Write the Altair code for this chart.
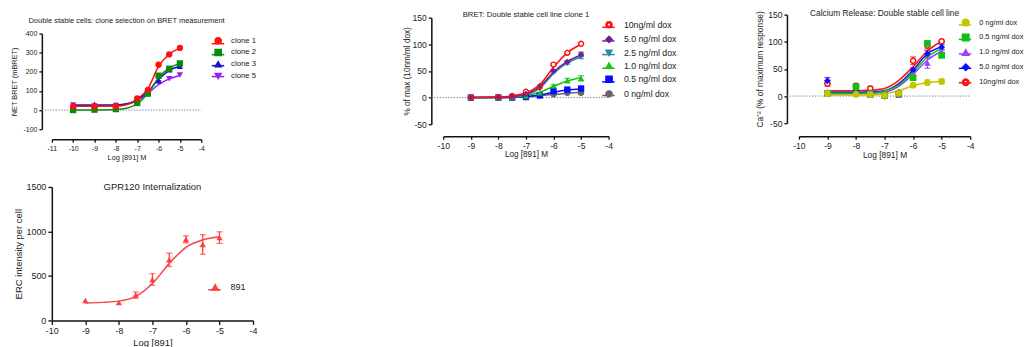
import altair as alt
import pandas as pd

FONT = "Liberation Sans"
TXT = "#222222"
RING = ("M -1 0 A 1 1 0 1 0 1 0 A 1 1 0 1 0 -1 0 Z "
        "M -0.55 0 A 0.55 0.55 0 1 1 0.55 0 A 0.55 0.55 0 1 1 -0.55 0 Z")

# ---------------- Panel 1: clone selection ----------------
p1_title = "Double stable cells: clone selection on BRET measurement"
p1_series = ["clone 1", "clone 2", "clone 3", "clone 5"]
p1_colors = ["#ff1010", "#0a8a0a", "#1414c8", "#9a1ef0"]
p1_open = [False, False, False, False]
p1_shapes = ["circle", "square", "triangle-up", "triangle-down"]
p1_x = [-10, -9, -8, -7, -6.5, -6, -5.5, -5]
p1_clone1 = [19, 19, 20, 61, 106, 237, 291, 325]
p1_clone2 = [0, 2, 5, 37, 86, 180, 216, 244]
p1_clone3 = [23, 30, 26, 54, 92, 155, 211, 229]
p1_clone5 = [26, 21, 24, 54, 82, 143, 164, 183]
p1_err = [0, 0, 0, 0, 0, 0, 0, 0]
p1_fit_x = [-10, -9, -8, -7.5, -7, -6.5, -6, -5.5, -5]
p1_fit_clone1 = [20, 20, 21, 28, 57, 112, 228, 292, 324]
p1_fit_clone2 = [0, 0, 3, 10, 33, 88, 168, 220, 243]
p1_fit_clone3 = [26, 26, 27, 33, 55, 97, 160, 208, 229]
p1_fit_clone5 = [23, 23, 24, 30, 50, 88, 133, 163, 181]

# ---------------- Panel 2: BRET dox titration ----------------
p2_title = "BRET: Double stable cell line clone 1"
p2_series = ["10ng/ml dox", "5.0 ng/ml dox", "2.5 ng/ml dox", "1.0 ng/ml dox", "0.5 ng/ml dox", "0 ng/ml dox"]
p2_colors = ["#ff1010", "#6e2096", "#2a8ba6", "#10c810", "#0a0aff", "#666666"]
p2_open = [True, False, False, False, False, False]
p2_shapes = [RING, "diamond", "triangle-down", "triangle-up", "square", "circle"]
p2_x = [-9, -8, -7.5, -7, -6.5, -6, -5.5, -5]
p2_d10 = [0, 1, 3, 11, 20, 62, 84, 101]
p2_d5 = [0, 1, 2, 7, 22, 50, 67, 81]
p2_d25 = [0, 0, 0, 4, 16, 47, 64, 76]
p2_d1 = [0, 0, 1, 3, 9, 22, 32, 36]
p2_d05 = [0, 0, 0, 1, 4, 12, 15, 17]
p2_d0 = [0, 0, 0, 1, 4, 6, 9, 9]
p2_e10 = [0, 0, 0, 0, 0, 3, 2, 1]
p2_e5 = [0, 0, 0, 0, 0, 2, 2, 4]
p2_e25 = [0, 0, 0, 0, 0, 0, 2, 3]
p2_e1 = [0, 0, 0, 0, 0, 2, 4, 5]
p2_e05 = [0, 0, 0, 0, 0, 2, 3, 4]
p2_e0 = [0, 0, 0, 0, 0, 0, 1, 2]
p2_fit_x = [-9, -8, -7.5, -7, -6.5, -6, -5.5, -5]
p2_fit_d10 = [0, 1, 3, 9, 24, 57, 84, 100]
p2_fit_d5 = [0, 1, 2, 7, 20, 48, 68, 80]
p2_fit_d25 = [0, 0, 1, 5, 17, 45, 65, 76]
p2_fit_d1 = [0, 0, 1, 4, 10, 21, 31, 37]
p2_fit_d05 = [0, 0, 0.5, 2, 5, 10, 14, 16]
p2_fit_d0 = [0, 0, 0.5, 1.5, 3.5, 6, 8, 10]

# ---------------- Panel 3: calcium release ----------------
p3_title = "Calcium Release: Double stable cell line"
p3_series = ["0 ng/ml dox", "0.5 ng/ml dox", "1.0 ng/ml dox", "5.0 ng/ml dox", "10ng/ml dox"]
p3_colors = ["#c4c400", "#10c010", "#a040ff", "#0a0aff", "#ff1010"]
p3_open = [False, False, False, False, True]
p3_shapes = ["circle", "square", "triangle-up", "diamond", RING]
p3_x = [-9, -8, -7.5, -7, -6.5, -6, -5.5, -5]
p3_d0 = [5, 3, 3, 1, 5, 20, 25, 27]
p3_d05 = [5, 17, 4, 1, 4, 34, 97, 75]
p3_d1 = [8, 9, 2, 1, 2, 40, 61, 82]
p3_d5 = [28, 9, 6, 0, 7, 48, 78, 90]
p3_d10 = [23, 19, 14, 0, 5, 65, 93, 101]
p3_e0 = [0, 0, 0, 0, 0, 3, 5, 4]
p3_e05 = [0, 3, 0, 0, 0, 5, 3, 4]
p3_e1 = [0, 0, 0, 0, 0, 4, 10, 4]
p3_e5 = [6, 0, 0, 0, 0, 4, 6, 5]
p3_e10 = [5, 4, 4, 0, 3, 7, 6, 2]
p3_fit_x = [-9, -8, -7.5, -7, -6.5, -6, -5.5, -5]
p3_fit_d0 = [2, 2, 2, 4, 10, 19, 25, 27]
p3_fit_d05 = [5, 5, 6, 9, 20, 44, 72, 88]
p3_fit_d1 = [4, 4, 5, 7, 18, 40, 66, 83]
p3_fit_d5 = [7, 7, 8, 10, 23, 48, 78, 91]
p3_fit_d10 = [10, 10, 11, 14, 29, 54, 83, 101]

# ---------------- Panel 4: internalization ----------------
p4_title = "GPR120 Internalization"
p4_series = ["891"]
p4_colors = ["#ff4040"]
p4_open = [False]
p4_shapes = ["triangle-up"]
p4_x = [-9, -8, -7.5, -7, -6.5, -6, -5.5, -5]
p4_y = [223, 200, 285, 461, 681, 911, 854, 931]
p4_e = [0, 0, 35, 65, 75, 40, 110, 65]
p4_fit_x = [-9, -8.5, -8, -7.5, -7, -6.5, -6, -5.5, -5]
p4_fit_y = [195, 203, 217, 270, 415, 640, 822, 905, 940]


def build_panel(series, colors, opens, shapes, px, pvals, perrs, fx, fvals, sp):
    rows = []
    for s, vals, errs in reversed(list(zip(series, pvals, perrs))):
        for x, v, e in zip(px, vals, errs):
            rows.append({"s": s, "x": x, "y": v, "e": e, "lo": v - e, "hi": v + e})
    pts = pd.DataFrame(rows)
    frows = []
    for s, vals in reversed(list(zip(series, fvals))):
        for x, v in zip(fx, vals):
            frows.append({"s": s, "s2": s, "x": x, "y": v})
    fit = pd.DataFrame(frows)
    open_series = [s for s, o in zip(series, opens) if o]

    xsc = alt.Scale(domain=sp["xdom"], nice=False, zero=False)
    ysc = alt.Scale(domain=sp["ydom"], range=sp["yrange"], nice=False, zero=False)
    common = dict(labelExpr="'' + datum.value", grid=False, domainColor="#111111",
                  domainWidth=1.5, tickColor="#111111", tickWidth=1.3, tickSize=sp["tick"],
                  labelColor=TXT, titleColor=TXT, labelFont=FONT, titleFont=FONT,
                  titleFontWeight="normal", labelFontSize=sp["lfs"], titleFontSize=sp["tfs"],
                  labelOverlap=False, labelFlush=False, labelBound=False)
    xax = alt.Axis(values=sp["xticks"], title=sp["xtitle"], offset=sp["xoff"],
                   labelPadding=sp["xlpad"], titlePadding=sp["xtpad"], **common)
    yax = alt.Axis(values=sp["yticks"], title=sp["ytitle"], offset=sp["yoff"],
                   labelPadding=2, titlePadding=sp["ytpad"], **common)
    X = alt.X("x:Q", scale=xsc, axis=xax)
    cscale = alt.Scale(domain=series, range=colors)
    leg = alt.Legend(orient="none", legendX=sp["legx"], legendY=sp["legy"], labelFont=FONT,
                     labelFontSize=sp["legfs"], rowPadding=sp["rowpad"],
                     labelOffset=sp["laboff"], labelLimit=200, labelColor=TXT,
                     symbolSize=sp["symsize"], symbolStrokeWidth=1.3, symbolOpacity=1)
    leg2 = alt.Legend(orient="none", legendX=sp["legx"] - 3.2, legendY=sp["legy"],
                      labelExpr="''", labelFontSize=sp["legfs"],
                      rowPadding=sp.get("rowpad2", sp["rowpad"]),
                      symbolType="stroke", symbolSize=156, symbolStrokeWidth=1.5,
                      symbolOpacity=1)
    C = alt.Color("s:N", scale=cscale, legend=leg, title=None)
    S = alt.Shape("s:N", scale=alt.Scale(domain=series, range=shapes), legend=leg, title=None)

    layers = []
    if sp["zero"]:
        zdf = pd.DataFrame({"z": [0]})
        zero = alt.Chart(zdf).mark_rule(color="#777777", strokeWidth=1, strokeDash=[1.2, 1.6]).encode(
            x=alt.value(-sp["yoff"]), x2=alt.value(sp["width"]),
            y=alt.Y("z:Q", scale=ysc, axis=yax))
        layers.append(zero)
    ebase = alt.Chart(pts).transform_filter("datum.e > 0")
    err = ebase.mark_rule(strokeWidth=1.3).encode(
        x=X, y=alt.Y("lo:Q", scale=ysc, axis=yax), y2="hi:Q", color=C)
    cap_lo = ebase.mark_tick(orient="horizontal", size=6, thickness=1.3).encode(
        x=X, y=alt.Y("lo:Q", scale=ysc, axis=yax), color=C)
    cap_hi = ebase.mark_tick(orient="horizontal", size=6, thickness=1.3).encode(
        x=X, y=alt.Y("hi:Q", scale=ysc, axis=yax), color=C)
    line = alt.Chart(fit).mark_line(interpolate="monotone", strokeWidth=1.5).encode(
        x=X, y=alt.Y("y:Q", scale=ysc, axis=yax),
        stroke=alt.Stroke("s2:N", scale=alt.Scale(domain=series, range=colors), legend=leg2, title=None),
        detail="s:N")
    layers += [err, cap_lo, cap_hi, line]
    if open_series:
        holes = alt.Chart(pts).transform_filter(
            alt.FieldOneOfPredicate(field="s", oneOf=open_series)
        ).mark_point(filled=True, size=sp["msize"] * 0.45, opacity=1, color="#ffffff").encode(
            x=X, y=alt.Y("y:Q", scale=ysc, axis=yax))
        layers.append(holes)
    pts_l = alt.Chart(pts).mark_point(filled=True, size=sp["msize"], opacity=1).encode(
        x=X, y=alt.Y("y:Q", scale=ysc, axis=yax), color=C, shape=S)
    layers.append(pts_l)
    return alt.layer(*layers).resolve_scale(stroke="independent").properties(
        width=sp["width"], height=sp["height"],
        title=alt.TitleParams(sp["title"], font=FONT, fontSize=sp["titlefs"], fontWeight="normal",
                              color=TXT, anchor="middle", frame="group", baseline="bottom",
                              offset=sp["titleoff"], dy=sp["titledy"]))


c1 = build_panel(p1_series, p1_colors, p1_open, p1_shapes, p1_x,
                 [p1_clone1, p1_clone2, p1_clone3, p1_clone5], [p1_err] * 4,
                 p1_fit_x, [p1_fit_clone1, p1_fit_clone2, p1_fit_clone3, p1_fit_clone5],
                 dict(xdom=[-11, -4], ydom=[-100, 400], yrange=[115, 19], width=150, height=115,
                      xticks=list(range(-11, -3)), yticks=[-100, 0, 100, 200, 300, 400],
                      xtitle="Log [891] M", ytitle="NET BRET (mBRET)", xoff=10, yoff=10,
                      tick=3, lfs=7, tfs=7.4, xlpad=2, xtpad=2, ytpad=4,
                      legx=163, legy=22.2, legfs=7.8, symsize=40, rowpad=-0.2, laboff=9,
                      msize=40, zero=True, title=p1_title, titlefs=7.5, titleoff=-8.6, titledy=9))

c2 = build_panel(p2_series, p2_colors, p2_open, p2_shapes, p2_x,
                 [p2_d10, p2_d5, p2_d25, p2_d1, p2_d05, p2_d0],
                 [p2_e10, p2_e5, p2_e25, p2_e1, p2_e05, p2_e0],
                 p2_fit_x, [p2_fit_d10, p2_fit_d5, p2_fit_d25, p2_fit_d1, p2_fit_d05, p2_fit_d0],
                 dict(xdom=[-10, -4], ydom=[-50, 150], yrange=[110, 3], width=166, height=110,
                      xticks=list(range(-10, -3)), yticks=[-50, 0, 50, 100, 150],
                      xtitle="Log [891] M", ytitle="% of max (10nm/ml dox)", xoff=12, yoff=12,
                      tick=3, lfs=8.6, tfs=8.2, xlpad=2, xtpad=1, ytpad=1,
                      legx=162, legy=5.7, legfs=8.8, symsize=40, rowpad=1.7, laboff=10.5,
                      msize=40, zero=True, title=p2_title, titlefs=7.8, titleoff=-2, titledy=11))

c3 = build_panel(p3_series, p3_colors, p3_open, p3_shapes, p3_x,
                 [p3_d0, p3_d05, p3_d1, p3_d5, p3_d10],
                 [p3_e0, p3_e05, p3_e1, p3_e5, p3_e10],
                 p3_fit_x, [p3_fit_d0, p3_fit_d05, p3_fit_d1, p3_fit_d5, p3_fit_d10],
                 dict(xdom=[-10, -4], ydom=[-50, 150], yrange=[109, 0], width=172, height=109,
                      xticks=list(range(-10, -3)), yticks=[-50, 0, 50, 100, 150],
                      xtitle="Log [891] M", ytitle="Ca\u207a\u00b2 (% of maximum response)", xoff=13, yoff=12,
                      tick=3, lfs=8.6, tfs=8.4, xlpad=2, xtpad=1, ytpad=3,
                      legx=163, legy=3.4, legfs=7.4, symsize=45, rowpad=2.0, rowpad2=3.5, laboff=9,
                      msize=45, zero=True, title=p3_title, titlefs=8.4, titleoff=-2, titledy=14))

c4 = build_panel(p4_series, p4_colors, p4_open, p4_shapes, p4_x,
                 [p4_y], [p4_e], p4_fit_x, [p4_fit_y],
                 dict(xdom=[-10, -4], ydom=[0, 1500], yrange=[134, 0], width=202, height=134,
                      xticks=list(range(-10, -3)), yticks=[0, 500, 1000, 1500],
                      xtitle="Log [891]", ytitle="ERC intensity per cell", xoff=0, yoff=0,
                      tick=4, lfs=9, tfs=9.5, xlpad=2.5, xtpad=1.5, ytpad=2,
                      legx=159.5, legy=96.2, legfs=9, symsize=40, rowpad=2, laboff=11,
                      msize=40, zero=False, title=p4_title, titlefs=9.5, titleoff=-3.7, titledy=15))

chart = alt.concat(c1, c2, c3, c4, columns=3, spacing={"row": 58, "column": 191},
                   bounds="flush", align="each").resolve_scale(
    x="independent", y="independent", color="independent", shape="independent",
    stroke="independent").properties(
    padding={"left": 2, "top": 0, "right": 0, "bottom": 0}
).configure(font=FONT).configure_view(stroke="transparent")

chart.save("out.html", embed_options={"renderer": "svg", "actions": False})
